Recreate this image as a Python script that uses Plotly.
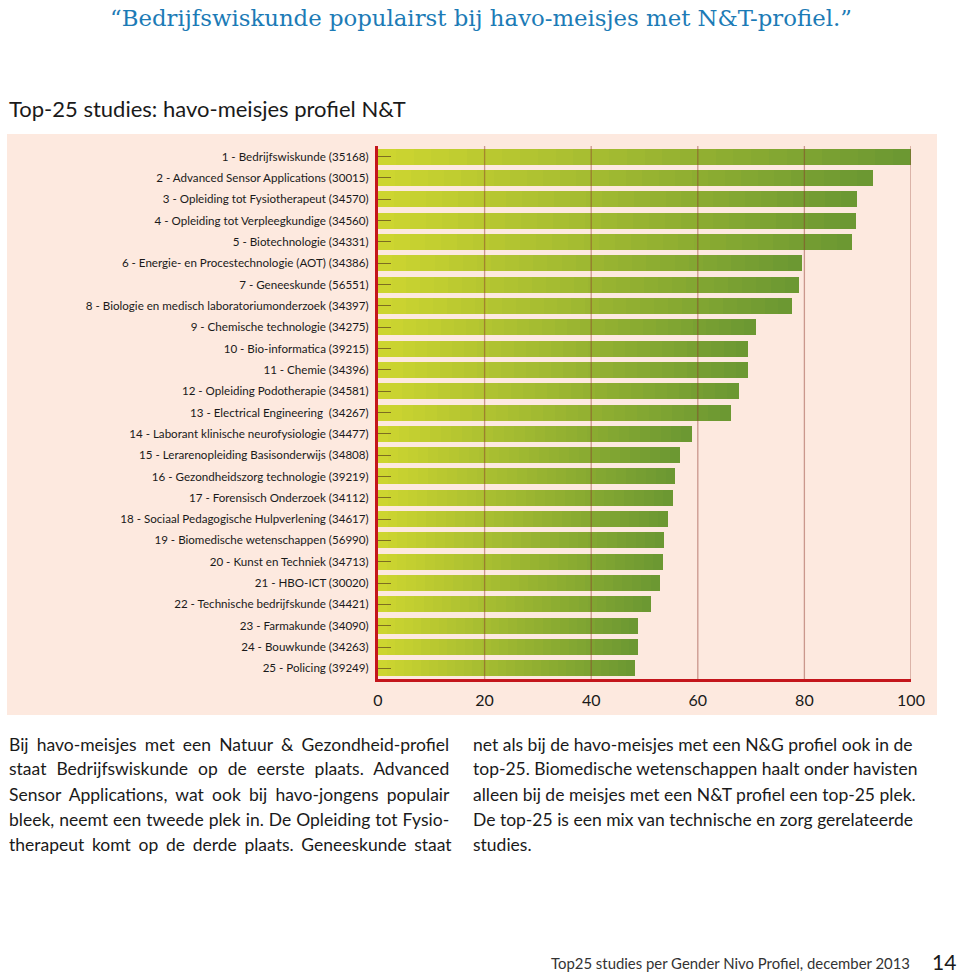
import plotly.graph_objects as go

# ---------------- data ----------------
studies = [
    "1 - Bedrijfswiskunde (35168)",
    "2 - Advanced Sensor Applications (30015)",
    "3 - Opleiding tot Fysiotherapeut (34570)",
    "4 - Opleiding tot Verpleegkundige (34560)",
    "5 - Biotechnologie (34331)",
    "6 - Energie- en Procestechnologie (AOT) (34386)",
    "7 - Geneeskunde (56551)",
    "8 - Biologie en medisch laboratoriumonderzoek (34397)",
    "9 - Chemische technologie (34275)",
    "10 - Bio-informatica (39215)",
    "11 - Chemie (34396)",
    "12 - Opleiding Podotherapie (34581)",
    "13 - Electrical Engineering  (34267)",
    "14 - Laborant klinische neurofysiologie (34477)",
    "15 - Lerarenopleiding Basisonderwijs (34808)",
    "16 - Gezondheidszorg technologie (39219)",
    "17 - Forensisch Onderzoek (34112)",
    "18 - Sociaal Pedagogische Hulpverlening (34617)",
    "19 - Biomedische wetenschappen (56990)",
    "20 - Kunst en Techniek (34713)",
    "21 - HBO-ICT (30020)",
    "22 - Technische bedrijfskunde (34421)",
    "23 - Farmakunde (34090)",
    "24 - Bouwkunde (34263)",
    "25 - Policing (39249)",
]
scores = [100, 92.9, 89.9, 89.7, 89.0, 79.5, 78.9, 77.7, 71.0, 69.5, 69.5, 67.8,
          66.3, 58.9, 56.7, 55.8, 55.4, 54.4, 53.7, 53.4, 52.9, 51.3, 48.8, 48.8, 48.2]
x_ticks = [0, 20, 40, 60, 80, 100]

title_text = "\u201cBedrijfswiskunde populairst bij havo-meisjes met N&T-profiel.\u201d"
subtitle_text = "Top-25 studies: havo-meisjes profiel N&T"
left_lines = [
    "Bij havo-meisjes met een Natuur & Gezondheid-profiel",
    "staat Bedrijfswiskunde op de eerste plaats. Advanced",
    "Sensor Applications, wat ook bij havo-jongens populair",
    "bleek, neemt een tweede plek in. De Opleiding tot Fysio-",
    "therapeut komt op de derde plaats. Geneeskunde staat",
]
left_word_spacing = [3.7, 5.5, 3.8, 0.5, 3.2]
right_lines = [
    "net als bij de havo-meisjes met een N&G profiel ook in de",
    "top-25. Biomedische wetenschappen haalt onder havisten",
    "alleen bij de meisjes met een N&T profiel een top-25 plek.",
    "De top-25 is een mix van technische en zorg gerelateerde",
    "studies.",
]
footer_text = "Top25 studies per Gender Nivo Profiel, december 2013"
page_no = "14"

# ---------------- layout geometry (pixels) ----------------
W, H = 960, 975
L, R, T, B = 378, 911, 146, 679
PW, PH = R - L, B - T


def px(x):
    return (x - L) / PW


def py(y):
    return (B - y) / PH


# gradient colours
c0 = (205, 213, 48)
c1 = (108, 152, 50)
N = 30


def mix(t):
    return "rgb(%d,%d,%d)" % tuple(round(a + (b - a) * t) for a, b in zip(c0, c1))


fig = go.Figure()
for k in range(N):
    fig.add_trace(go.Bar(
        y=studies,
        x=[v / N for v in scores],
        orientation="h",
        marker=dict(color=mix(k / (N - 1)), line=dict(width=0)),
        width=0.75,
        hoverinfo="skip",
        showlegend=False,
    ))

shapes = [
    dict(type="rect", xref="paper", yref="paper", x0=px(7), x1=px(937), y0=py(715), y1=py(134),
         fillcolor="#fde9df", line=dict(width=0), layer="below"),
]
for t in x_ticks[1:]:
    shapes.append(dict(type="line", xref="x", yref="paper", x0=t, x1=t, y0=0, y1=1,
                       line=dict(color="rgba(140,50,40,0.45)", width=1.3), layer="above"))

annotations = [
    dict(text=title_text, x=px(108), y=py(18), xref="paper", yref="paper", xanchor="left",
         yanchor="middle", showarrow=False,
         font=dict(family="DejaVu Serif", size=22.8, color="#1c7bb6")),
    dict(text=subtitle_text, x=px(7), y=py(108), xref="paper", yref="paper", xanchor="left",
         yanchor="middle", showarrow=False,
         font=dict(family="Lato", size=22, color="#1a1a1a")),
    dict(text=footer_text, x=px(912), y=py(963), xref="paper", yref="paper", xanchor="right",
         yanchor="middle", showarrow=False,
         font=dict(family="Lato", size=14.9, color="#333333")),
    dict(text=page_no, x=px(958), y=py(961), xref="paper", yref="paper", xanchor="right",
         yanchor="middle", showarrow=False,
         font=dict(family="Lato", size=21, color="#1a1a1a")),
]
for i, line in enumerate(left_lines):
    txt = '<span style="word-spacing:%.1fpx">%s</span>' % (left_word_spacing[i], line.replace("&", "&amp;"))
    annotations.append(dict(text=txt, x=px(7), y=py(744 + 25 * i), xref="paper", yref="paper",
                            xanchor="left", yanchor="middle", showarrow=False,
                            font=dict(family="Lato", size=17.5, color="#1a1a1a")))
for i, line in enumerate(right_lines):
    annotations.append(dict(text=line, x=px(471), y=py(744 + 25 * i), xref="paper", yref="paper",
                            xanchor="left", yanchor="middle", showarrow=False,
                            font=dict(family="Lato", size=17.5, color="#1a1a1a")))

fig.update_layout(
    width=W, height=H,
    margin=dict(l=L, r=W - R, t=T, b=H - B, pad=0),
    paper_bgcolor="white",
    plot_bgcolor="rgba(0,0,0,0)",
    barmode="stack",
    bargap=0.25,
    showlegend=False,
    shapes=shapes,
    annotations=annotations,
    xaxis=dict(range=[0, 100], tickvals=x_ticks, showgrid=False, zeroline=False,
               showline=True, linecolor="#c4161c", linewidth=3, layer="above traces",
               ticks="", ticklabelstandoff=5,
               tickfont=dict(family="Lato", size=16, color="#1a1a1a"), fixedrange=True),
    yaxis=dict(autorange="reversed", showgrid=False, zeroline=False,
               showline=True, linecolor="#c4161c", linewidth=3, layer="above traces",
               ticks="inside", ticklen=13, tickwidth=1, tickcolor="rgba(110,90,30,0.85)",
               ticklabelstandoff=4,
               tickfont=dict(family="Lato", size=11.6, color="#1a1a1a"), fixedrange=True),
)

fig.write_html("out.html", config={"displayModeBar": False},
               post_script="document.body.style.margin='0';")
